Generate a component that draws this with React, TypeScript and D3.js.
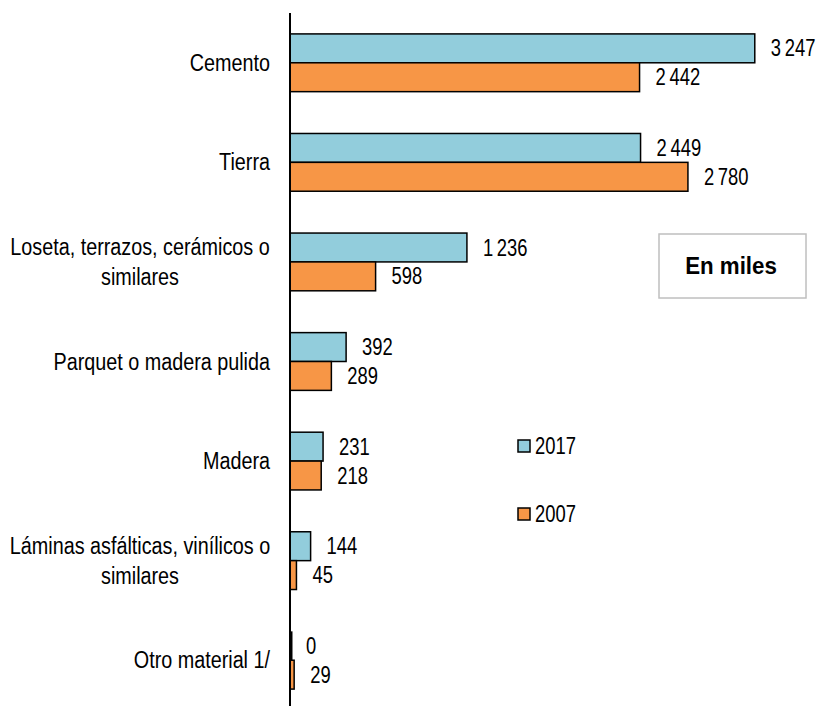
import React from "react";
import { scaleBand, scaleLinear } from "d3";

const width = 817;
const height = 706;

// data
const categories = [
  ["Cemento"],
  ["Tierra"],
  ["Loseta, terrazos, cerámicos o", "similares"],
  ["Parquet o madera pulida"],
  ["Madera"],
  ["Láminas asfálticas, vinílicos o", "similares"],
  ["Otro material 1/"],
];
const values2017 = [3247, 2449, 1236, 392, 231, 144, 0];
const values2007 = [2442, 2780, 598, 289, 218, 45, 29];
const seriesNames = ["2017", "2007"];
const seriesColors = ["#92CDDC", "#F79646"];

const font = "'Liberation Sans', Arial, sans-serif";
const fontSize = 23;
const narrow = 0.86; // no Arial Narrow installed, squeeze horizontally

const fmt = (v: number) => {
  const s = String(v);
  return s.length > 3 ? s.slice(0, -3) + "\u2009" + s.slice(-3) : s;
};

// text squeezed like Arial Narrow
const NText = ({ x, y, anchor = "start", size = fontSize, weight = "normal", sx = narrow, children }: any) => (
  <text
    transform={`translate(${x},${y}) scale(${sx},1)`}
    textAnchor={anchor}
    dy="0.35em"
    fontSize={size}
    fontWeight={weight}
    fill="#000"
  >
    {children}
  </text>
);

const App = () => {
  const yScale = scaleBand<number>()
    .domain(categories.map((_, i) => i))
    .range([13, 710])
    .paddingInner(0.42)
    .paddingOuter(0.21);

  const xScale = scaleLinear().domain([0, 3500]).range([290, 791]);
  const bh = yScale.bandwidth() / 2;
  const series = [values2017, values2007];

  return (
    <svg
      width={width}
      height={height}
      style={{ position: "absolute", left: 0, top: 0, background: "#fff" }}
      fontFamily={font}
    >
      {series.map((vals, s) =>
        vals.map((v, i) => {
          const y = (yScale(i) as number) + s * bh;
          return (
            <g key={`${s}-${i}`}>
              {v > 0 ? (
                <rect
                  x={xScale(0)}
                  y={y}
                  width={xScale(v) - xScale(0)}
                  height={bh}
                  fill={seriesColors[s]}
                  stroke="#000"
                  strokeWidth={1.5}
                />
              ) : (
                <line
                  x1={xScale(0) + 1}
                  x2={xScale(0) + 1}
                  y1={y}
                  y2={y + bh}
                  stroke="#000"
                  strokeWidth={3}
                />
              )}
              <NText x={xScale(v) + 16} y={y + bh / 2} sx={0.8}>
                {fmt(v)}
              </NText>
            </g>
          );
        })
      )}

      {/* category axis */}
      <line x1={290} x2={290} y1={13} y2={710} stroke="#000" strokeWidth={2} />
      {categories.map((lines, i) => {
        const cy = (yScale(i) as number) + yScale.bandwidth() / 2;
        return lines.map((t, j) => (
          <NText
            key={`${i}-${j}`}
            x={lines.length > 1 ? 140 : 270}
            y={cy + (j - (lines.length - 1) / 2) * 30}
            anchor={lines.length > 1 ? "middle" : "end"}
          >
            {t}
          </NText>
        ));
      })}

      {/* legend */}
      {seriesNames.map((n, s) => (
        <g key={n} transform={`translate(518,${446 + s * 68})`}>
          <rect x={0} y={-6} width={12} height={12} fill={seriesColors[s]} stroke="#000" strokeWidth={1.5} />
          <NText x={17} y={0} sx={0.8}>
            {n}
          </NText>
        </g>
      ))}

      {/* unit box */}
      <rect x={659} y={234} width={147} height={64} fill="#fff" stroke="#BFBFBF" strokeWidth={1.5} />
      <NText x={731} y={266} anchor="middle" size={24} weight="bold" sx={0.93}>
        En miles
      </NText>
    </svg>
  );
};

export default App;
